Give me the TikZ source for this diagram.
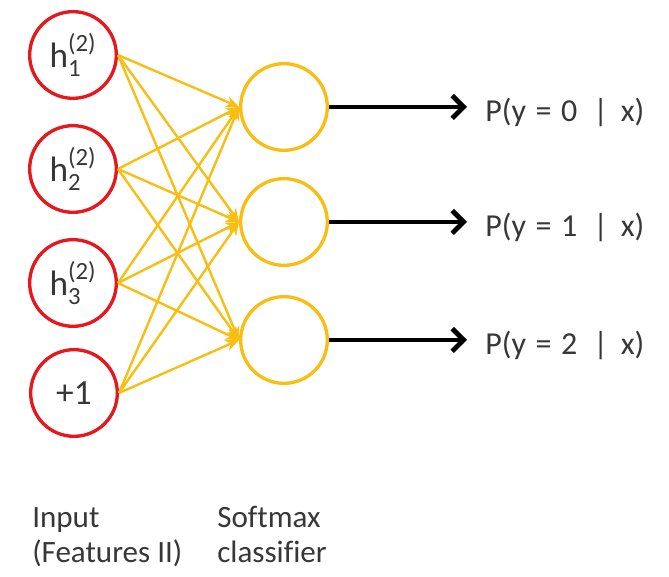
\documentclass[tikz,border=0pt]{standalone}
\usepackage{fontspec}
\usepackage{amsmath}
\setmainfont[Ligatures=CommonOff]{Carlito}
\usetikzlibrary{arrows.meta}
\definecolor{nred}{RGB}{228,24,30}
\definecolor{nyel}{RGB}{248,190,20}
\definecolor{txt}{RGB}{55,55,55}
\newcommand\plab[1]{P(y\hspace{0.3em}=\hspace{0.3em}#1\hspace{0.5em}|\hspace{0.4em}x)}
\begin{document}
\begin{tikzpicture}[x=0.75pt,y=-0.75pt,
  inp/.style={circle,draw=nred,line width=2.5pt,minimum size=65pt,inner sep=0pt,
    font=\fontsize{26.5}{30}\selectfont,text=txt},
  sm/.style={circle,draw=nyel,line width=2.5pt,minimum size=65pt,inner sep=0pt},
  conn/.style={nyel,line width=1.8pt,-{Stealth[length=10pt,width=8.5pt]}},
  outarr/.style={black,line width=3.6pt,-{Straight Barb[length=8.5pt,width=17pt]}},
  lab/.style={font=\fontsize{24}{27}\selectfont,text=txt,anchor=base west,inner sep=0pt},
  caplab/.style={font=\fontsize{23.3}{27}\selectfont,text=txt,anchor=base west,inner sep=0pt}]
\useasboundingbox (0,0) rectangle (669,577);
% input layer
\node[inp] (h1) at (73,55)  {$\text{h}^{\text{(2)}}_{\text{1}}$};
\node[inp] (h2) at (73,169) {$\text{h}^{\text{(2)}}_{\text{2}}$};
\node[inp] (h3) at (73,283) {$\text{h}^{\text{(2)}}_{\text{3}}$};
\node[inp] (b)  at (74,393) {+1};
% softmax layer
\node[sm] (s1) at (284,107) {};
\node[sm] (s2) at (284,222) {};
\node[sm] (s3) at (284,340) {};
% connections
\foreach \a in {h1,h2,h3,b}
  \foreach \c in {s1,s2,s3}
    \draw[conn] (\a.east) -- (\c.west);
% outputs
\coordinate (e1) at (467,107);
\coordinate (e2) at (467,222);
\coordinate (e3) at (467,340);
\draw[outarr] (s1.east) -- (e1);
\draw[outarr] (s2.east) -- (e2);
\draw[outarr] (s3.east) -- (e3);
\node[lab] (p0) at (485,122) {\plab{0}};
\node[lab] (p1) at (485,237) {\plab{1}};
\node[lab] (p2) at (485,355) {\plab{2}};
% captions
\node[caplab] (c1) at (32,528) {Input};
\node[caplab] (c2) at (32,563) {(Features II)};
\node[caplab] (c3) at (217,528) {Softmax};
\node[caplab] (c4) at (217,563) {classifier};
\end{tikzpicture}
\end{document}
